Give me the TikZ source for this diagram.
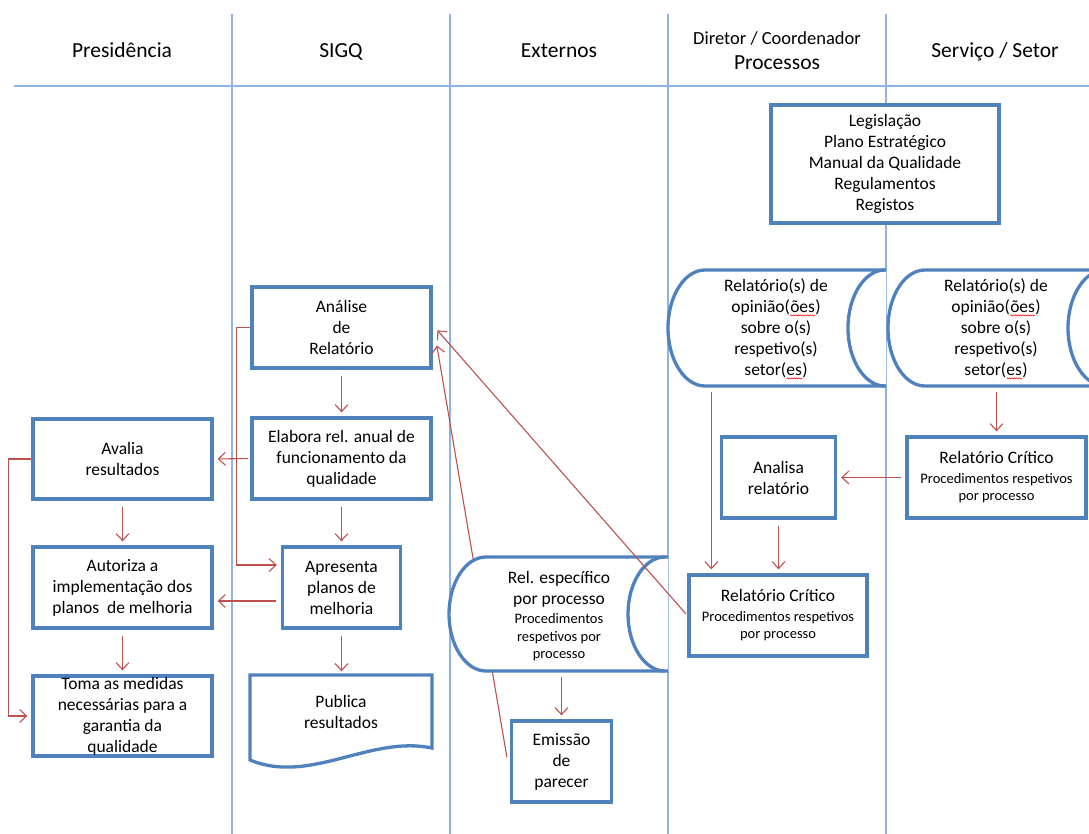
\documentclass[tikz,border=0pt]{standalone}
\usepackage{fontspec}
\setmainfont{Carlito}
\usetikzlibrary{arrows.meta,decorations.pathmorphing,calc}

\definecolor{boxblue}{HTML}{4F81BD}
\definecolor{laneblue}{HTML}{8EB4E3}
\definecolor{flowred}{HTML}{C0504D}

\newcommand\mainsize{\fontsize{17.5}{21}\selectfont}
\newcommand\smallsize{\fontsize{14.5}{17}\selectfont}
% red wavy underline under a word fragment
\newcommand\squig[1]{\tikz[baseline=(sqw.base)]{\node[inner sep=0pt,outer sep=0pt](sqw){#1};%
  \draw[red,line width=0.5pt,decorate,decoration={snake,amplitude=0.6pt,segment length=2.4pt}]
  ([yshift=-2.8pt]sqw.base west) -- ([yshift=-2.8pt]sqw.base east);}}

\begin{document}
\begin{tikzpicture}[x=1pt,y=-1pt,
  lane/.style={draw=laneblue,line width=1.3pt},
  lanehead/.style={inner sep=0pt,anchor=base,font=\fontsize{21.5}{25}\selectfont},
  stepbox/.style={draw=boxblue,line width=3.3pt,fill=white,align=center,inner sep=0pt,font=\mainsize},
  shapeline/.style={draw=boxblue,line width=3.3pt},
  cyltext/.style={inner sep=0pt,align=center,font=\mainsize},
  arr/.style={draw=flowred,line width=1.1pt,-{Straight Barb[length=7pt,width=13pt]},shorten <=6pt,shorten >=4pt}]

\useasboundingbox (0,0) rectangle (1089,834);
\clip (0,0) rectangle (1089,834);

% swimlanes
\foreach \x in {232,450,668,886} \draw[lane] (\x,14) -- (\x,834);
\draw[lane] (14,86) -- (1089,86);

\node[lanehead] (hPres) at (122,58) {Presidência};
\node[lanehead] (hSigq) at (341,58) {SIGQ};
\node[lanehead] (hExt) at (559,58) {Externos};
\node[lanehead,font=\fontsize{18.5}{22}\selectfont] (hDir) at (777,45) {Diretor / Coordenador};
\node[lanehead] (hProc) at (777,70) {Processos};
\node[lanehead] (hServ) at (995,58) {Serviço / Setor};

% invisible nodes holding the storage shapes and their texts
\node[cyltext,minimum width=218pt,minimum height=116pt] (cyl1) at (777,328) {};
\node[cyltext,minimum width=201pt,minimum height=116pt] (cyl2) at (988.5,328) {};
\node[cyltext,minimum width=219pt,minimum height=114pt] (cyl3) at (558.5,614) {};
\node[stepbox,minimum width=100pt,minimum height=81pt] (emissao) at (561.5,761.5) {Emissão\\de\\parecer};
\node[stepbox,minimum width=179pt,minimum height=81pt] (analise) at (341.5,327.5) {Análise\\de\\Relatório};

% feedback from the opinion back to the analysis (passes behind the storage shape)
\coordinate (emisStart) at ([xshift=-3pt,yshift=4.5pt]emissao.west);
\coordinate (analiseIn2) at ([xshift=4pt,yshift=-17pt]analise.east);
\draw[arr,shorten <=0pt,shorten >=1pt] (emisStart) -- (analiseIn2);

% storage shapes
\fill[white] (705,270) -- (886,270) -- (886,386) -- (705,386) arc[start angle=90,end angle=270,x radius=37,y radius=58] -- cycle;
\draw[shapeline] (886,270) -- (705,270) arc[start angle=270,end angle=90,x radius=37,y radius=58] -- (886,386);
\draw[shapeline] (885,270) arc[start angle=270,end angle=90,x radius=37,y radius=58];

\fill[white] (925,270) -- (1095,270) -- (1095,386) -- (925,386) arc[start angle=90,end angle=270,x radius=37,y radius=58] -- cycle;
\draw[shapeline] (1095,270) -- (925,270) arc[start angle=270,end angle=90,x radius=37,y radius=58] -- (1095,386);
\draw[shapeline] (1105,270) arc[start angle=270,end angle=90,x radius=37,y radius=58];

\fill[white] (486,557) -- (668,557) -- (668,671) -- (486,671) arc[start angle=90,end angle=270,x radius=37,y radius=57] -- cycle;
\draw[shapeline] (668,557) -- (486,557) arc[start angle=270,end angle=90,x radius=37,y radius=57] -- (668,671);
\draw[shapeline] (665,557) arc[start angle=270,end angle=90,x radius=37,y radius=57];

\node[cyltext] (cyl1txt) at (776,329) {Relatório(s) de\\opinião(\squig{ões})\\sobre o(s)\\respetivo(s)\\setor(\squig{es})};
\node[cyltext] (cyl2txt) at (996,329) {Relatório(s) de\\opinião(\squig{ões})\\sobre o(s)\\respetivo(s)\\setor(\squig{es})};
\node[cyltext] (cyl3txt) at (559,616) {Rel. específico\\por processo\\[-2pt]{\smallsize Procedimentos}\\[-3pt]{\smallsize respetivos por}\\[-4pt]{\smallsize processo}};

% process boxes
\node[stepbox,minimum width=228pt,minimum height=118pt] (leg) at (885,164) {Legislação\\Plano Estratégico\\Manual da Qualidade\\Regulamentos\\Registos};
\node[stepbox,minimum width=179pt,minimum height=80pt] (avalia) at (122.5,459) {Avalia\\resultados};
\node[stepbox,minimum width=179pt,minimum height=81pt] (autoriza) at (122.5,587.5) {Autoriza a\\implementação dos\\planos \ de melhoria};
\node[stepbox,minimum width=179pt,minimum height=80pt] (toma) at (122.5,716) {Toma as medidas\\necessárias para a\\garantia da\\qualidade};
\node[stepbox,minimum width=179pt,minimum height=81pt] (elabora) at (341.5,458.5) {Elabora rel. anual de\\funcionamento da\\qualidade};
\node[stepbox,minimum width=118pt,minimum height=81pt] (apresenta) at (341.5,587.5) {Apresenta\\planos de\\melhoria};
\node[stepbox,minimum width=114pt,minimum height=81pt] (analisa) at (778.5,477.5) {Analisa\\relatório};
\node[stepbox,minimum width=178pt,minimum height=81pt] (rc1) at (778,615.5) {Relatório Crítico\\[-1pt]{\smallsize Procedimentos respetivos}\\[-4pt]{\smallsize por processo}};
\node[stepbox,minimum width=179pt,minimum height=81pt] (rc2) at (996.5,477.5) {Relatório Crítico\\[-1pt]{\smallsize Procedimentos respetivos}\\[-4pt]{\smallsize por processo}};

% document shape
\draw[shapeline,fill=white] (250,675) -- (432,675) -- (432,748) .. controls (370,735) and (310,785) .. (250,760) -- cycle;
\node[cyltext,minimum width=182pt,minimum height=73pt] (publica) at (341,712) {Publica\\resultados};

% flow connectors
\draw[arr] (avalia) -- (autoriza);
\draw[arr] (autoriza) -- (toma);
\draw[arr,shorten <=0pt] (avalia.west) -- ++(-23,0) |- (toma.west);
\draw[arr,shorten <=2pt] (elabora.west) -- (avalia.east);
\draw[arr,shorten <=5pt] ([yshift=-13.5pt]apresenta.west) -- ([yshift=-13.5pt]autoriza.east);
\draw[arr,shorten <=0pt] (analise.west) -- ++(-14,0) |- ([yshift=22.5pt]apresenta.west);
\draw[arr] (analise) -- (elabora);
\draw[arr] (elabora) -- (elabora |- apresenta.north);
\draw[arr] (apresenta.south) -- (apresenta.south |- publica.north);

\coordinate (analiseIn1) at ([xshift=4pt,yshift=-2pt]analise.east);
\draw[arr,shorten <=2pt,shorten >=1pt] (rc1.west) -- (analiseIn1);

\draw[arr] (emissao |- cyl3.south) -- (emissao.north);
\coordinate (rc1Top) at ([xshift=24pt]rc1.north west);
\draw[arr] (rc1Top |- cyl1.south) -- (rc1Top);
\draw[arr] (analisa) -- (analisa |- rc1.north);
\draw[arr,shorten <=4pt] (rc2.west) -- (analisa.east);
\draw[arr] (rc2 |- cyl2.south) -- (rc2.north);
\end{tikzpicture}
\end{document}
